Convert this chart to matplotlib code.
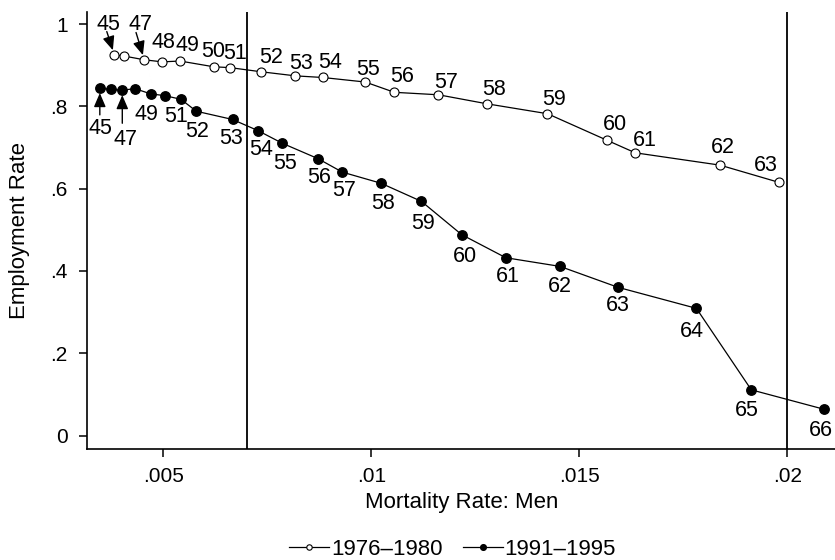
import matplotlib
matplotlib.use("Agg")
import matplotlib.pyplot as plt

plt.rcParams["font.family"] = ["Liberation Sans", "DejaVu Sans"]

# ------------------------------------------------------------
# dados (idade, taxa de mortalidade, emprego)
# ------------------------------------------------------------
idades_7680 = [45, 46, 47, 48, 49, 50, 51, 52, 53, 54, 55, 56, 57, 58, 59,
               60, 61, 62, 63]
mortalidade_7680 = [0.00382, 0.00406, 0.00454, 0.00497, 0.00540, 0.00621,
                    0.00660, 0.00734, 0.00817, 0.00883, 0.00985, 0.01055,
                    0.01161, 0.01278, 0.01423, 0.01565, 0.01634, 0.01838,
                    0.01980]
emprego_7680 = [0.925, 0.922, 0.913, 0.908, 0.910, 0.896, 0.894, 0.884,
                0.874, 0.870, 0.859, 0.834, 0.828, 0.806, 0.782, 0.718,
                0.687, 0.657, 0.615]

idades_9195 = [45, 46, 47, 48, 49, 50, 51, 52, 53, 54, 55, 56, 57, 58, 59,
               60, 61, 62, 63, 64, 65, 66]
mortalidade_9195 = [0.00347, 0.00374, 0.00401, 0.00431, 0.00470, 0.00503,
                    0.00542, 0.00579, 0.00666, 0.00727, 0.00786, 0.00871,
                    0.00930, 0.01023, 0.01120, 0.01217, 0.01323, 0.01453,
                    0.01593, 0.01781, 0.01913, 0.02087]
emprego_9195 = [0.844, 0.841, 0.839, 0.843, 0.830, 0.826, 0.817, 0.788,
                0.768, 0.741, 0.710, 0.673, 0.640, 0.613, 0.569, 0.488,
                0.432, 0.411, 0.360, 0.309, 0.111, 0.064]

linhas_verticais = [0.007, 0.02]

# deslocamento dos rotulos em pixels (dx, dy para baixo), None = sem rotulo
rotulos_7680 = [(-6, -33), None, (-4, -38), (1, -22), (7, -18), (-1, -17),
                (5, -16), (10, -16), (6, -15), (7, -17), (3, -15), (8, -18),
                (8, -14), (7, -17), (7, -16), (8, -18), (10, -15), (3, -20),
                (-13, -19)]
rotulos_9195 = [(1, 38), None, (3, 47), None, (-5, 18), None, (-5, 15),
                (1, 18), (-1, 17), (3, 17), (3, 18), (1, 17), (2, 16),
                (2, 18), (2, 20), (3, 20), (2, 17), (0, 18), (0, 16),
                (-5, 21), (-4, 18), (-3, 19)]
# setas: idade -> cauda da seta relativa ao ponto (pixels)
setas_7680 = {45: (-7.6, -23.3), 47: (-8.3, -27.3)}
setas_9195 = {45: (0, 26.7), 47: (0, 33)}

fig = plt.figure(figsize=(8.35, 5.6), dpi=100)
ax = fig.add_axes([0.1038, 0.1982, 0.8986, 0.7804])

for xv in linhas_verticais:
    ax.axvline(xv, color="black", linewidth=1.3, zorder=1)

ax.plot(mortalidade_7680, emprego_7680, color="black", linewidth=0.9,
        marker="o", markersize=6.5, markerfacecolor="white",
        markeredgecolor="black", markeredgewidth=0.8,
        label="1976\u20131980", zorder=3)
ax.plot(mortalidade_9195, emprego_9195, color="black", linewidth=0.9,
        marker="o", markersize=6.8, markerfacecolor="black",
        markeredgecolor="black", label="1991\u20131995", zorder=3)

meia_altura = 7.7  # metade da altura dos digitos em pixels

def rotular(xs, ys, idades, offsets, setas):
    for x, y, idade, off in zip(xs, ys, idades, offsets):
        if off is None:
            continue
        dx, dy = off
        ax.annotate(str(idade), xy=(x, y), xytext=(dx, -(dy + meia_altura)),
                    textcoords="offset pixels", ha="center", va="baseline",
                    fontsize=15.5, zorder=4)
        if idade in setas:
            tx, ty = setas[idade]
            ax.annotate("", xy=(x, y), xytext=(tx, -ty),
                        textcoords="offset pixels",
                        arrowprops=dict(arrowstyle="-|>,head_length=0.7,head_width=0.3",
                                        mutation_scale=12, color="black",
                                        linewidth=1.0, shrinkA=0, shrinkB=3.5),
                        zorder=4)

rotular(mortalidade_7680, emprego_7680, idades_7680, rotulos_7680, setas_7680)
rotular(mortalidade_9195, emprego_9195, idades_9195, rotulos_9195, setas_9195)

ax.set_xlim(0.003154, 0.02119)
ax.set_ylim(-0.0328, 1.0292)

ax.set_xticks([0.005, 0.01, 0.015, 0.02])
ax.set_xticklabels([".005", ".01", ".015", ".02"])
ax.set_yticks([0, 0.2, 0.4, 0.6, 0.8, 1])
ax.set_yticklabels(["0", ".2", ".4", ".6", ".8", "1"])
ax.tick_params(axis="both", direction="out", length=5.8, width=1.1,
               labelsize=15)
ax.tick_params(axis="x", pad=7.5)
ax.tick_params(axis="y", pad=8)

ax.spines["top"].set_visible(False)
ax.spines["right"].set_visible(False)
ax.spines["left"].set_linewidth(1.2)
ax.spines["bottom"].set_linewidth(1.2)

ax.set_xlabel("Mortality Rate: Men", fontsize=16, labelpad=4)
ax.set_ylabel("Employment Rate", fontsize=16)
ax.yaxis.set_label_coords(-0.076, 0.5)

fig.legend(loc="center", bbox_to_anchor=(0.542, 0.019), ncol=2,
           frameon=False, fontsize=16, handlelength=1.8, handletextpad=0.08,
           columnspacing=0.9, markerscale=0.6, borderpad=0)

fig.savefig("out.png", dpi=100)
